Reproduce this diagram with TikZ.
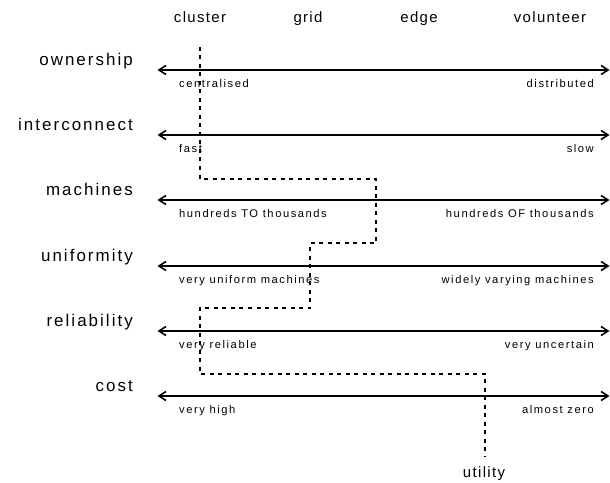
\documentclass[tikz,border=0pt]{standalone}
\usepackage{fontspec}
\setmainfont{Liberation Sans}
\newfontfamily\kindfont{Liberation Sans}[LetterSpace=9]
\newfontfamily\propfont{Liberation Sans}[LetterSpace=12]
\newfontfamily\endfont{Liberation Sans}[LetterSpace=14]
\usetikzlibrary{arrows.meta}
\begin{document}
\begin{tikzpicture}[x=1bp,y=-1bp,
  axis/.style={line width=2bp,{Straight Barb[length=7bp,width=9bp,line width=1.6bp]}-{Straight Barb[length=7bp,width=9bp,line width=1.6bp]}},
  route/.style={line width=2bp,dash pattern=on 4bp off 4.5bp},
  kind/.style={inner sep=0pt,anchor=base,font=\kindfont\fontsize{15}{18}\selectfont},
  prop/.style={inner sep=0pt,anchor=base east,font=\propfont\fontsize{17}{20}\selectfont},
  lo/.style={inner sep=0pt,anchor=base west,font=\endfont\fontsize{11.2}{13}\selectfont},
  hi/.style={inner sep=0pt,anchor=base east,font=\endfont\fontsize{11.2}{13}\selectfont}]
\useasboundingbox (0,0) rectangle (610,483);

% system kinds across the top
\node[kind] (cluster) at (200,23) {cluster};
\node[kind] (grid) at (308,23) {grid};
\node[kind] (edge) at (419,23) {edge};
\node[kind] (volunteer) at (550,23) {volunteer};
\node[kind] (utility) at (484,477) {utility};

% one axis per property
\foreach \name/\lft/\rgt/\ya in {
    ownership/centralised/distributed/70,
    interconnect/fast/slow/135,
    machines/hundreds TO thousands/hundreds OF thousands/200,
    uniformity/very uniform machines/widely varying machines/266,
    reliability/very reliable/very uncertain/331,
    cost/very high/almost zero/396}{
  \coordinate (\name-l) at (157.5,\ya);
  \coordinate (\name-r) at (609.5,\ya);
  \draw[axis] (\name-l) -- (\name-r);
  \node[prop] (\name) at (133,\ya-4.5) {\name};
  \node[lo] (\name-lo) at (179,\ya+17.5) {\lft};
  \node[hi] (\name-hi) at (594,\ya+17.5) {\rgt};
}

% the utility path through the axes
\coordinate (start) at (200,47);
\coordinate (finish) at (485,457);
\draw[route] (start) -- (200,179) -- (376,179) -- (376,243) -- (310,243)
  -- (310,308) -- (200,308) -- (200,374) -- (485,374) -- (finish);
\end{tikzpicture}
\end{document}
